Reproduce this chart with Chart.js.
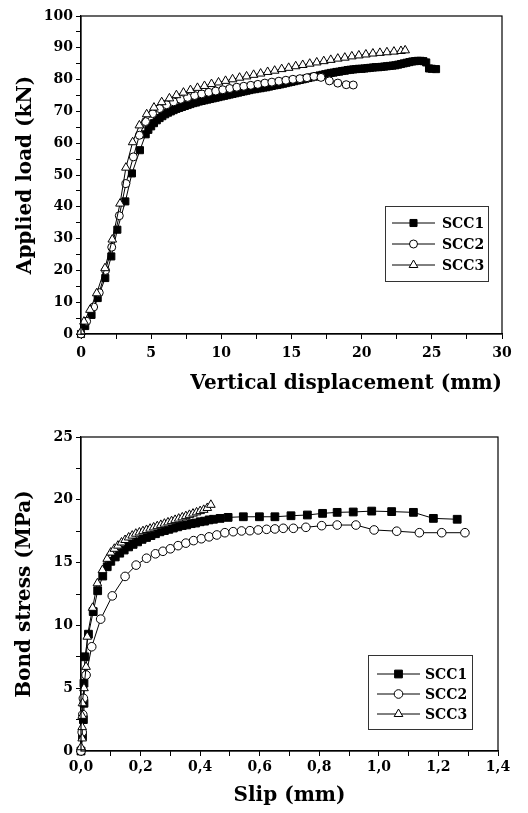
<!DOCTYPE html>
<html>
<head>
<meta charset="utf-8">
<script src="https://cdn.jsdelivr.net/npm/chart.js@4.4.0/dist/chart.umd.min.js"></script>
<style>
  html, body { margin: 0; padding: 0; background: #fff; }
  #wrap { position: relative; width: 528px; height: 813px; }
  canvas { position: absolute; left: 0; }
  #topChart { top: 0; }
  #bottomChart { top: 405px; }
</style>
</head>
<body>
<div id="wrap">
  <canvas id="topChart" width="528" height="405"></canvas>
  <canvas id="bottomChart" width="528" height="408"></canvas>
</div>
<script>
'use strict';

// ---- top chart: applied load vs vertical displacement ----
let loadX1 = [0, 0.3, 0.75, 1.19, 1.73, 2.16, 2.59, 3.16, 3.63, 4.2, 4.61, 4.8, 5.0, 5.2, 5.4, 5.6, 5.8, 6.0, 6.2, 6.4, 6.6, 6.8, 7.0, 7.2, 7.4, 7.6, 7.8, 8.0, 8.2, 8.4, 8.6, 8.8, 9.0, 9.2, 9.4, 9.6, 9.8, 10.0, 10.2, 10.4, 10.6, 10.8, 11.0, 11.2, 11.4, 11.6, 11.8, 12.0, 12.2, 12.4, 12.6, 12.8, 13.0, 13.2, 13.4, 13.6, 13.8, 14.0, 14.2, 14.4, 14.6, 14.8, 15.0, 15.2, 15.4, 15.6, 15.8, 16.0, 16.2, 16.4, 16.6, 16.8, 17.0, 17.2, 17.4, 17.6, 17.8, 18.0, 18.2, 18.4, 18.6, 18.8, 19.0, 19.2, 19.4, 19.6, 19.8, 20.0, 20.2, 20.4, 20.6, 20.8, 21.0, 21.2, 21.4, 21.6, 21.8, 22.0, 22.2, 22.4, 22.6, 22.8, 23.0, 23.2, 23.4, 23.6, 23.8, 24.0, 24.2, 24.4, 24.6, 24.8, 25.0, 25.3];
let loadY1 = [0, 2.5, 6, 11.3, 17.6, 24.4, 32.8, 41.7, 50.5, 57.8, 62.8, 64.2, 65.3, 66.3, 67.2, 67.9, 68.5, 69.1, 69.6, 70.0, 70.4, 70.8, 71.1, 71.4, 71.7, 72.0, 72.3, 72.6, 72.8, 73.1, 73.3, 73.5, 73.7, 73.9, 74.1, 74.3, 74.5, 74.7, 74.9, 75.1, 75.3, 75.5, 75.7, 75.9, 76.1, 76.3, 76.5, 76.7, 76.9, 77.0, 77.2, 77.3, 77.5, 77.6, 77.8, 78.0, 78.2, 78.3, 78.5, 78.7, 78.9, 79.1, 79.3, 79.5, 79.7, 79.9, 80.1, 80.3, 80.5, 80.7, 80.9, 81.1, 81.3, 81.5, 81.7, 81.9, 82.1, 82.2, 82.4, 82.5, 82.7, 82.8, 83.0, 83.1, 83.2, 83.3, 83.4, 83.4, 83.5, 83.6, 83.7, 83.8, 83.9, 83.9, 84.0, 84.1, 84.2, 84.3, 84.4, 84.5, 84.7, 84.9, 85.1, 85.3, 85.5, 85.7, 85.8, 85.9, 85.9, 85.8, 85.4, 83.5, 83.4, 83.3];

let loadX2 = [0, 0.4, 0.9, 1.3, 1.75, 2.19, 2.73, 3.2, 3.73, 4.16, 4.6, 5.1, 5.6, 6.1, 6.6, 7.1, 7.6, 8.1, 8.6, 9.1, 9.6, 10.1, 10.6, 11.1, 11.6, 12.1, 12.6, 13.1, 13.6, 14.1, 14.6, 15.1, 15.6, 16.1, 16.6, 17.1, 17.7, 18.3, 18.9, 19.4];
let loadY2 = [0, 4, 8.5, 13, 20, 27.3, 37.2, 47.3, 55.7, 62.5, 66.8, 69.3, 70.9, 72.1, 73.0, 73.8, 74.4, 75.0, 75.5, 76.0, 76.4, 76.8, 77.2, 77.6, 77.9, 78.2, 78.5, 78.9, 79.2, 79.5, 79.8, 80.1, 80.3, 80.6, 81.0, 80.7, 79.6, 78.9, 78.4, 78.3];

let loadX3 = [0, 0.21, 0.64, 1.12, 1.71, 2.23, 2.78, 3.2, 3.68, 4.16, 4.68, 5.2, 5.75, 6.3, 6.8, 7.3, 7.8, 8.3, 8.8, 9.3, 9.8, 10.3, 10.8, 11.3, 11.8, 12.3, 12.8, 13.3, 13.8, 14.3, 14.8, 15.3, 15.8, 16.3, 16.8, 17.3, 17.8, 18.3, 18.8, 19.3, 19.8, 20.3, 20.8, 21.3, 21.8, 22.3, 22.8, 23.1];
let loadY3 = [0.7, 3.9, 7.6, 12.8, 20.7, 29.7, 41, 52.3, 60.3, 65.6, 69.1, 71.2, 72.9, 74.1, 75.1, 75.9, 76.7, 77.4, 78.0, 78.6, 79.1, 79.6, 80.1, 80.6, 81.0, 81.5, 81.9, 82.4, 82.8, 83.3, 83.7, 84.2, 84.6, 85.0, 85.4, 85.8, 86.2, 86.6, 86.9, 87.3, 87.6, 87.9, 88.2, 88.4, 88.6, 88.8, 89.0, 89.2];

// ---- bottom chart: bond stress vs slip ----
let slipX1 = [0, 0.005, 0.008, 0.01, 0.01, 0.013, 0.025, 0.041, 0.056, 0.073, 0.088, 0.1, 0.115, 0.13, 0.145, 0.16, 0.175, 0.19, 0.205, 0.22, 0.235, 0.25, 0.265, 0.28, 0.295, 0.31, 0.325, 0.34, 0.355, 0.37, 0.385, 0.4, 0.415, 0.43, 0.445, 0.467, 0.494, 0.545, 0.599, 0.651, 0.705, 0.76, 0.811, 0.86, 0.914, 0.976, 1.043, 1.116, 1.183, 1.263];
let slipY1 = [0, 1.2, 2.5, 3.8, 5.4, 7.5, 9.3, 11.1, 12.76, 13.93, 14.67, 15.1, 15.45, 15.75, 16.0, 16.25, 16.45, 16.65, 16.85, 17.0, 17.15, 17.3, 17.45, 17.55, 17.65, 17.75, 17.85, 17.95, 18.0, 18.1, 18.15, 18.25, 18.3, 18.4, 18.45, 18.52, 18.6, 18.65, 18.65, 18.65, 18.73, 18.79, 18.92, 19.0, 19.03, 19.1, 19.06, 19.0, 18.52, 18.45];

let slipX2 = [0, 0.004, 0.006, 0.008, 0.017, 0.036, 0.066, 0.105, 0.148, 0.185, 0.22, 0.25, 0.275, 0.3, 0.326, 0.352, 0.378, 0.404, 0.43, 0.456, 0.483, 0.511, 0.539, 0.567, 0.595, 0.623, 0.651, 0.679, 0.713, 0.755, 0.808, 0.86, 0.923, 0.984, 1.06, 1.136, 1.211, 1.289];
let slipY2 = [0, 1.5, 2.9, 4.2, 6.05, 8.3, 10.5, 12.35, 13.9, 14.8, 15.35, 15.7, 15.9, 16.1, 16.35, 16.55, 16.75, 16.9, 17.05, 17.2, 17.38, 17.46, 17.52, 17.54, 17.6, 17.65, 17.68, 17.73, 17.73, 17.81, 17.94, 17.99, 17.99, 17.6, 17.5, 17.38, 17.38, 17.38];

let slipX3 = [0, 0.004, 0.004, 0.004, 0.005, 0.01, 0.017, 0.021, 0.039, 0.055, 0.072, 0.088, 0.1, 0.112, 0.124, 0.136, 0.148, 0.16, 0.172, 0.184, 0.196, 0.208, 0.22, 0.232, 0.244, 0.256, 0.268, 0.28, 0.292, 0.304, 0.316, 0.328, 0.34, 0.352, 0.364, 0.376, 0.388, 0.4, 0.412, 0.424, 0.436];
let slipY3 = [0.3, 1.0, 1.9, 2.8, 3.8, 5.0, 6.7, 9.1, 11.4, 13.35, 14.4, 15.3, 15.8, 16.1, 16.35, 16.6, 16.8, 17.0, 17.15, 17.3, 17.4, 17.5, 17.6, 17.7, 17.8, 17.9, 18.0, 18.1, 18.2, 18.3, 18.4, 18.5, 18.6, 18.7, 18.8, 18.9, 19.0, 19.1, 19.2, 19.35, 19.6];

let seriesNames = ['SCC1', 'SCC2', 'SCC3'];

Chart.defaults.font.family = "'DejaVu Serif', serif";
Chart.defaults.font.weight = 'bold';
Chart.defaults.color = '#000';

function drawMarker(ctx, style, x, y, r, fill) {
  ctx.beginPath();
  if (style === 'rect') {
    let s = r * Math.SQRT1_2;
    ctx.rect(x - s, y - s, 2 * s, 2 * s);
  } else if (style === 'circle') {
    ctx.arc(x, y, r, 0, Math.PI * 2);
  } else {
    let a = 0;
    ctx.moveTo(x + Math.sin(a) * r, y - Math.cos(a) * r);
    a += Math.PI * 2 / 3;
    ctx.lineTo(x + Math.sin(a) * r, y - Math.cos(a) * r);
    a += Math.PI * 2 / 3;
    ctx.lineTo(x + Math.sin(a) * r, y - Math.cos(a) * r);
    ctx.closePath();
  }
  ctx.fillStyle = fill;
  ctx.fill();
  ctx.lineWidth = 1;
  ctx.strokeStyle = '#000';
  ctx.stroke();
}

// frame round the plot + boxed legend with line and marker
let framePlugin = {
  id: 'frame',
  afterDraw(chart, args, opts) {
    let ctx = chart.ctx;
    let a = chart.chartArea;
    ctx.save();
    ctx.strokeStyle = '#000';
    ctx.lineWidth = 1.2;
    ctx.strokeRect(a.left, a.top, a.right - a.left, a.bottom - a.top);

    let lg = opts.legend;
    ctx.lineWidth = 1;
    ctx.strokeStyle = '#333';
    ctx.strokeRect(lg.x + 0.5, lg.y + 0.5, lg.w, lg.h);
    ctx.font = 'bold 14px "DejaVu Serif", serif';
    ctx.textBaseline = 'middle';
    chart.data.datasets.forEach((ds, i) => {
      let y = lg.rows[i];
      ctx.beginPath();
      ctx.moveTo(lg.line0, y);
      ctx.lineTo(lg.line1, y);
      ctx.strokeStyle = '#000';
      ctx.lineWidth = 1;
      ctx.stroke();
      drawMarker(ctx, ds.pointStyle, (lg.line0 + lg.line1) / 2, y, ds.pointRadius, ds.pointBackgroundColor);
      ctx.fillStyle = '#000';
      ctx.fillText(ds.label, lg.textX, y + 1);
    });
    ctx.restore();
  }
};

function series(label, xs, ys, style, fill, r, order) {
  return {
    label: label,
    data: xs.map((x, i) => ({ x: x, y: ys[i] })),
    showLine: true,
    borderColor: '#000',
    borderWidth: 1,
    pointStyle: style,
    pointRadius: r,
    pointBackgroundColor: fill,
    pointBorderColor: '#000',
    pointBorderWidth: 1,
    order: order,
    clip: false
  };
}

function axis(min, max, step, every, fmt, title, tpad, size) {
  return {
    type: 'linear',
    min: min,
    max: max,
    ticks: {
      stepSize: step,
      autoSkip: false,
      maxRotation: 0,
      padding: 3,
      color: '#000',
      font: { size: 14, weight: 'bold' },
      callback: (v, i) => (i % every === 0 ? fmt(v) : '')
    },
    grid: { drawOnChartArea: false, drawTicks: true, tickLength: 5, color: '#000' },
    border: { display: true, color: '#000', width: 1.2 },
    title: { display: true, text: title, color: '#000', font: { size: size, weight: 'bold' }, padding: tpad }
  };
}

// top chart
let topX = axis(0, 30, 2.5, 2, v => String(v), 'Vertical displacement (mm)', { top: 4, bottom: 9 }, 20);
topX.title.align = 'end';
topX.ticks.padding = 6;
topX.afterFit = s => { s.height = 71; };
let topY = axis(0, 100, 5, 2, v => String(v), 'Applied load (kN)', { top: 14, bottom: 0 }, 20);
topY.afterFit = s => { s.width = 81; };

new Chart(document.getElementById('topChart'), {
  type: 'scatter',
  data: {
    datasets: [
      series(seriesNames[0], loadX1, loadY1, 'rect', '#000', 5, 3),
      series(seriesNames[1], loadX2, loadY2, 'circle', '#fff', 4, 2),
      series(seriesNames[2], loadX3, loadY3, 'triangle', '#fff', 5, 1)
    ]
  },
  options: {
    responsive: false,
    animation: false,
    layout: { padding: { top: 16, right: 26, left: 0, bottom: 0 } },
    plugins: {
      legend: { display: false },
      tooltip: { enabled: false },
      frame: { legend: { x: 385, y: 206, w: 103, h: 75, rows: [223, 244, 265], line0: 392, line1: 435, textX: 442 } }
    },
    scales: { x: topX, y: topY }
  },
  plugins: [framePlugin]
});

// bottom chart
let botX = axis(0, 1.4, 0.1, 2, v => v.toFixed(1).replace('.', ','), 'Slip (mm)', { top: 4, bottom: 5 }, 20);
botX.afterFit = s => { s.height = 62; };
let botY = axis(0, 25, 2.5, 2, v => String(v), 'Bond stress (MPa)', { top: 13, bottom: 0 }, 20);
botY.afterFit = s => { s.width = 81; };

new Chart(document.getElementById('bottomChart'), {
  type: 'scatter',
  data: {
    datasets: [
      series(seriesNames[0], slipX1, slipY1, 'rect', '#000', 5.5, 3),
      series(seriesNames[1], slipX2, slipY2, 'circle', '#fff', 4.3, 2),
      series(seriesNames[2], slipX3, slipY3, 'triangle', '#fff', 5, 1)
    ]
  },
  options: {
    responsive: false,
    animation: false,
    layout: { padding: { top: 32, right: 30, left: 0, bottom: 0 } },
    plugins: {
      legend: { display: false },
      tooltip: { enabled: false },
      frame: { legend: { x: 368, y: 250, w: 104, h: 74, rows: [269, 289, 309], line0: 377, line1: 420, textX: 425 } }
    },
    scales: { x: botX, y: botY }
  },
  plugins: [framePlugin]
});
</script>
</body>
</html>
